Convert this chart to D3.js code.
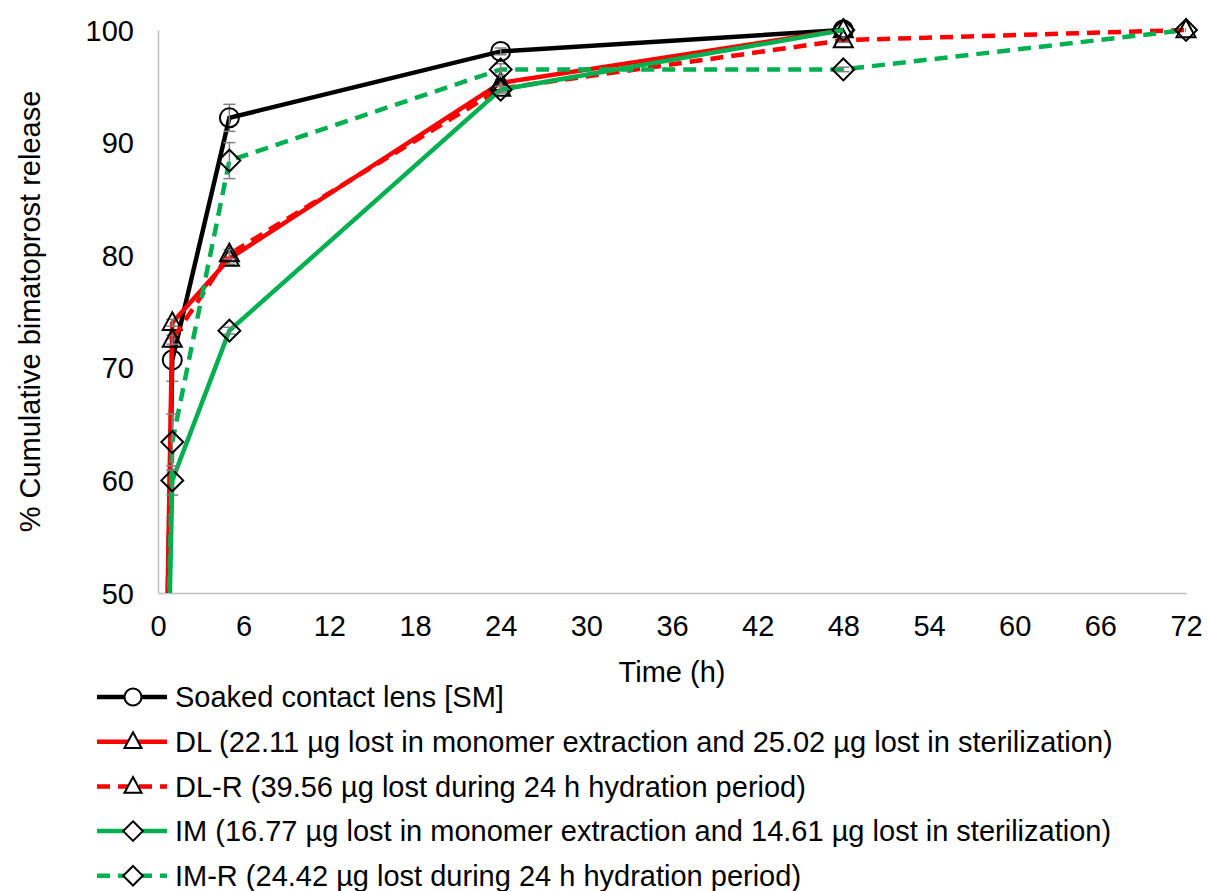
<!DOCTYPE html>
<html>
<head>
<meta charset="utf-8">
<script src="https://cdn.jsdelivr.net/npm/d3@7"></script>
<style>
    body { margin: 0; background: #fff; }
    text { font-family: "Liberation Sans", Arial, sans-serif; fill: #000; }
</style>
</head>
<body>
<div id="chartContainer"></div>
<script>
//////////////////// data ///////////////////
const seriesNames = [
    "Soaked contact lens [SM]",
    "DL (22.11 µg lost in monomer extraction and 25.02 µg lost in sterilization)",
    "DL-R (39.56 µg lost during 24 h hydration period)",
    "IM (16.77 µg lost in monomer extraction and 14.61 µg lost in sterilization)",
    "IM-R (24.42 µg lost during 24 h hydration period)",
];
const timeSM = [0, 1, 5, 24, 48];
const valuesSM = [0, 70.7, 92.2, 98.1, 100];
const errSM = [0, 1.9, 1.2, 0.3, 0];

const timeDL = [0, 1, 5, 24, 48];
const valuesDL = [0, 74.0, 79.7, 95.3, 100];
const errDL = [0, 0.3, 0.5, 0.3, 0];

const timeDLR = [0, 1, 5, 24, 48, 72];
const valuesDLR = [0, 72.5, 80.1, 94.8, 99.1, 100];
const errDLR = [0, 0.4, 0.4, 0.3, 0.2, 0];

const timeIM = [0, 1, 5, 24, 48];
const valuesIM = [0, 60.0, 73.3, 94.7, 100];
const errIM = [0, 1.3, 0.3, 0.3, 0];

const timeIMR = [0, 1, 5, 24, 48, 72];
const valuesIMR = [0, 63.4, 88.4, 96.5, 96.5, 100];
const errIMR = [0, 2.5, 1.6, 0.5, 0.2, 0];

const xTicks = [0, 6, 12, 18, 24, 30, 36, 42, 48, 54, 60, 66, 72];
const yTicks = [50, 60, 70, 80, 90, 100];

//series styling
const colors = ["#000000", "#FF0000", "#FF0000", "#00B050", "#00B050"];
const dashed = [false, false, true, false, true];
const markers = ["circle", "triangle", "triangle", "diamond", "diamond"];

const seriesData = [
    [timeSM, valuesSM, errSM],
    [timeDL, valuesDL, errDL],
    [timeDLR, valuesDLR, errDLR],
    [timeIM, valuesIM, errIM],
    [timeIMR, valuesIMR, errIMR],
].map(([t, v, e]) => t.map((d, i) => ({ x: d, y: v[i], e: e[i] })));

//////////////////// chart setup ///////////////////
const W = 1207, H = 891;
const margin = { top: 30, right: 21, bottom: 298, left: 158 };
const width = W - margin.left - margin.right;
const height = H - margin.top - margin.bottom;
const fontSize = "29px";

const svg = d3
    .select("#chartContainer")
    .append("svg")
    .attr("width", W)
    .attr("height", H);

const chart = svg
    .append("g")
    .attr("transform", `translate(${margin.left},${margin.top})`);

const x = d3.scaleLinear().domain([0, 72]).range([0, width]);
const y = d3.scaleLinear().domain([50, 100]).range([height, 0]);

//clip so that the (0,0) start points get cut at the axis
chart
    .append("clipPath")
    .attr("id", "plotClip")
    .append("rect")
    .attr("x", -20)
    .attr("y", -20)
    .attr("width", width + 40)
    .attr("height", height + 20);

//axes (no ticks, just labels)
const xAxis = d3.axisBottom(x).tickValues(xTicks).tickSize(0).tickPadding(22);
const yAxis = d3.axisLeft(y).tickValues(yTicks).tickSize(0).tickPadding(24);

chart
    .append("g")
    .attr("class", "xAxis")
    .attr("transform", `translate(0, ${height})`)
    .call(xAxis);
chart.append("g").attr("class", "yAxis").call(yAxis);

chart.selectAll(".domain").attr("stroke", "#BFBFBF").attr("stroke-width", 1.5);
chart.selectAll(".tick text").style("font-size", fontSize).attr("fill", "#000");
chart.selectAll(".yAxis .tick text").attr("dy", "0.35em");

//axis titles
chart
    .append("text")
    .attr("text-anchor", "middle")
    .attr("x", width / 2)
    .attr("y", height + 89)
    .style("font-size", fontSize)
    .text("Time (h)");

chart
    .append("g")
    .attr("transform", `translate(-128, ${height / 2})`)
    .append("text")
    .attr("text-anchor", "middle")
    .attr("transform", "rotate(-90)")
    .attr("dy", "0.35em")
    .style("font-size", fontSize)
    .text("% Cumulative bimatoprost release");

//marker shapes
function markerPath(kind, s) {
    if (kind === "circle") return d3.symbol(d3.symbolCircle, s * s * Math.PI)();
    if (kind === "triangle")
        return `M0,${-s * 1.1}L${s},${s * 0.75}L${-s},${s * 0.75}Z`;
    return `M0,${-s * 1.15}L${s * 1.15},0L0,${s * 1.15}L${-s * 1.15},0Z`;
}

const line = d3
    .line()
    .x((d) => x(d.x))
    .y((d) => y(d.y));

const plot = chart.append("g").attr("clip-path", "url(#plotClip)");

seriesData.forEach((data, i) => {
    const g = plot.append("g").attr("class", "series" + i);

    g.append("path")
        .datum(data)
        .attr("d", line)
        .attr("fill", "none")
        .attr("stroke", colors[i])
        .attr("stroke-width", 4.5)
        .attr("stroke-dasharray", dashed[i] ? "13,8" : null);

    const pts = data.filter((d) => d.x > 0);

    //error bars
    const eb = g
        .selectAll(".err")
        .data(pts.filter((d) => d.e > 0))
        .join("g")
        .attr("stroke", "#808080")
        .attr("stroke-width", 1.5);
    eb.append("line")
        .attr("x1", (d) => x(d.x))
        .attr("x2", (d) => x(d.x))
        .attr("y1", (d) => y(d.y + d.e))
        .attr("y2", (d) => y(d.y - d.e));
    eb.append("line")
        .attr("x1", (d) => x(d.x) - 6)
        .attr("x2", (d) => x(d.x) + 6)
        .attr("y1", (d) => y(d.y + d.e))
        .attr("y2", (d) => y(d.y + d.e));
    eb.append("line")
        .attr("x1", (d) => x(d.x) - 6)
        .attr("x2", (d) => x(d.x) + 6)
        .attr("y1", (d) => y(d.y - d.e))
        .attr("y2", (d) => y(d.y - d.e));

    g.selectAll(".mk")
        .data(pts)
        .join("path")
        .attr("transform", (d) => `translate(${x(d.x)},${y(d.y)})`)
        .attr("d", markerPath(markers[i], 9.5))
        .attr("fill", "none")
        .attr("stroke", "#000")
        .attr("stroke-width", 2);
});

//////////////////// legend ///////////////////
const legend = svg
    .append("g")
    .attr("transform", "translate(97, 697)");

seriesNames.forEach((name, i) => {
    const row = legend.append("g").attr("transform", `translate(0, ${i * 44.7})`);
    row.append("line")
        .attr("x1", 0)
        .attr("x2", 70)
        .attr("stroke", colors[i])
        .attr("stroke-width", 4.5)
        .attr("stroke-dasharray", dashed[i] ? "13,8" : null);
    row.append("path")
        .attr("transform", "translate(36,0)")
        .attr("d", markerPath(markers[i], 8.5))
        .attr("fill", "#fff")
        .attr("stroke", "#000")
        .attr("stroke-width", 2);
    row.append("text")
        .attr("x", 78)
        .attr("dy", "0.35em")
        .style("font-size", fontSize)
        .text(name);
});
</script>
</body>
</html>
